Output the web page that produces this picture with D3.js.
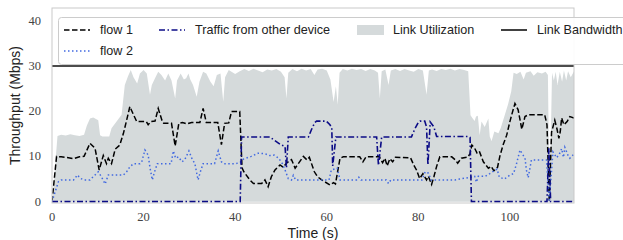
<!DOCTYPE html>
<html>
<head>
<meta charset="utf-8">
<script src="https://cdn.jsdelivr.net/npm/d3@7"></script>
<style>
  body { margin: 0; background: #fff; }
  svg { display: block; }
</style>
</head>
<body>
<svg id="chart" width="623" height="240"></svg>
<script>
// [time (s), throughput (Mbps)]
const flow1 = [[0,0],[1,10.0],[2,9.9],[3,9.8],[4.7,9.5],[6,9.9],[7,10.0],[8.3,12.9],[9.4,11.8],[10.3,7.0],[11.2,10.2],[11.9,8.4],[12.3,9.6],[13,8.4],[13.8,11.6],[14.8,12.5],[15.6,15.1],[16.3,18.0],[17.0,21.0],[17.8,19.2],[18.5,17.7],[20.6,17.7],[21.0,17.0],[21.6,17.7],[22.5,17.8],[23.2,20.6],[24.0,18.0],[24.4,17.3],[26.1,17.3],[26.9,12.3],[27.7,17.3],[28.5,17.5],[29.5,17.2],[30.5,17.5],[32.3,17.5],[33.0,20.6],[33.7,17.5],[36.2,17.5],[37.0,12.6],[37.7,17.3],[38.6,17.4],[39.2,19.9],[41.0,19.9],[41.5,7.5],[41.9,6.6],[43.2,4.8],[44.0,4.0],[45.8,4.0],[46.5,4.8],[47.2,3.3],[47.9,5.5],[48.7,7.0],[49.8,8.1],[50.5,7.6],[51.2,8.5],[52.3,9.3],[53.1,7.4],[53.8,8.4],[54.9,10.0],[55.7,9.2],[56.2,9.8],[57.3,6.6],[58.0,5.5],[58.9,4.8],[60.7,3.7],[61.5,4.2],[61.9,3.9],[62.9,9.6],[63.6,9.9],[67.2,9.9],[67.9,8.8],[68.6,9.9],[71.5,9.9],[72.2,8.6],[72.7,9.6],[73.2,7.9],[73.8,9.5],[74.4,8.8],[75.0,9.8],[78.3,9.7],[79.0,8.1],[79.6,7.0],[80.3,5.1],[81.0,6.2],[81.8,4.8],[82.2,5.6],[82.9,3.8],[83.4,5.5],[84.0,7.8],[84.7,9.9],[87.3,9.9],[88.1,9.2],[88.6,8.5],[89.4,9.6],[90.9,9.9],[91.3,10.7],[91.7,12.5],[92.3,11.8],[92.8,10.8],[93.3,11.2],[94.2,8.8],[95.3,7.4],[95.9,7.8],[96.5,6.8],[97.3,7.6],[97.8,10.0],[98.5,12.5],[99.3,14.7],[100.0,17.7],[100.4,19.2],[101.1,21.7],[101.8,20.3],[102.6,16.0],[103.3,18.8],[104.0,19.2],[107.6,19.2],[108.1,17.0],[108.6,0],[109.1,15.4],[109.8,18.0],[110.3,16.0],[110.7,14.0],[111.0,15.5],[111.3,18.5],[111.8,17.0],[112.5,17.7],[113.1,18.8],[114,18.5]];

const flow2 = [[0,0],[1.4,4.4],[2,4.8],[4.7,4.8],[5.0,5.1],[5.5,5.9],[6.3,5.1],[7.0,4.8],[8.3,4.8],[9.4,5.9],[10.1,6.6],[10.8,5.5],[11.6,3.9],[12.3,5.9],[15.6,5.9],[16.3,6.6],[17.0,7.7],[17.8,8.4],[19.2,8.4],[19.6,8.8],[20.3,11.4],[21.0,10.3],[21.4,7.5],[21.9,4.8],[22.4,6.6],[23.0,8.4],[26.0,8.4],[26.5,11.2],[27.0,9.6],[27.6,9.9],[28.4,8.8],[29.0,9.3],[29.9,11.2],[30.6,9.4],[31.2,8.4],[31.9,4.8],[32.4,6.6],[33.0,8.4],[35.5,8.4],[36.3,11.2],[37.0,8.8],[37.5,8.4],[40.0,8.4],[41.0,8.6],[41.8,9.4],[43.5,10.0],[45.0,10.7],[46.5,10.6],[47.5,10.2],[48.5,10.3],[49.5,9.6],[50.3,8.4],[50.9,7.0],[51.6,5.1],[52.3,4.8],[52.7,5.8],[53.2,4.8],[60.5,4.8],[61.0,7.0],[62.3,7.4],[62.9,4.8],[66.5,4.8],[67.0,5.4],[67.5,4.8],[73.0,4.8],[73.5,4.0],[74.0,4.8],[80.8,4.8],[81.5,6.6],[82.2,6.3],[82.8,4.8],[88,4.8],[89,5.0],[90.9,5.3],[92.3,5.6],[92.7,4.3],[93.1,5.6],[94.6,5.6],[95.6,6.2],[96.7,6.9],[97.2,7.2],[97.7,5.4],[98.8,5.0],[99.9,5.8],[100.8,6.2],[101.4,8.2],[102.2,11.4],[103.3,9.6],[103.6,7.0],[104.0,5.3],[104.7,9.2],[108.0,9.2],[108.6,0],[109.4,11.0],[110.2,9.7],[110.8,10.5],[111.3,11.7],[111.7,9.8],[112.0,12.0],[112.7,10.2],[113.1,9.6],[114,10.5]];

const otherTraffic = [[0,0],[41.1,0],[41.4,14.3],[47.6,14.3],[48.5,13.6],[50.1,12.5],[50.9,12.2],[51.2,7.5],[51.6,14.3],[56.0,14.3],[56.7,16.0],[57.4,17.5],[57.8,17.8],[59.9,17.8],[60.7,17.0],[61.1,16.3],[61.3,7.9],[62.0,14.3],[70.9,14.3],[71.3,8.0],[72.0,14.3],[78.5,14.3],[79.2,16.0],[80.0,17.5],[80.4,17.8],[81.4,17.8],[81.8,16.5],[82.1,8.1],[82.6,17.6],[83.4,16.5],[84.0,14.4],[90.9,14.4],[91.3,14.2],[91.6,0],[108.1,0],[108.5,11.8],[108.9,0],[114,0]];

const linkUtil = [[0,0],[0.3,3],[1.2,14.5],[2,14.8],[3,14.6],[4,14.9],[5,14.7],[6,14.5],[7,14.8],[7.6,16.8],[8.3,18.4],[9,18.6],[10.1,18.0],[10.5,14.7],[11,14.4],[12.5,14.4],[13,16.2],[14.1,17.7],[15.2,19.2],[15.9,25.8],[16.6,27.7],[17.2,29.1],[17.8,27.5],[18.6,26.1],[19.2,28.3],[20.0,29.1],[20.7,28.3],[21.4,23.6],[21.8,25.8],[22.5,27.3],[23.2,28.7],[23.9,28.0],[24.7,26.8],[25.4,28.3],[26.1,26.8],[26.9,22.8],[27.3,26.8],[28.1,28.3],[28.8,27.0],[29.3,27.3],[29.8,28.3],[30.2,27.0],[30.8,25.8],[31.6,23.2],[32.2,26.5],[33.0,28.7],[33.7,28.3],[34.6,26.5],[35.3,25.5],[36.0,28.0],[36.8,28.3],[37.4,22.1],[37.8,27.5],[38.6,29.1],[39.2,28.7],[40,28.2],[41,28.8],[42,29.3],[43,28.9],[44,29.4],[45,29.0],[46,28.6],[47,29.2],[48,29.0],[49,29.3],[50,28.7],[50.8,27.5],[51.2,22.8],[51.6,28.5],[52.5,29.3],[53.5,28.8],[54.5,29.4],[55.5,29.0],[56.5,29.3],[57.3,28.0],[58,29.2],[59,29.4],[60,29.0],[60.8,27.0],[61.5,22.0],[62,25.5],[62.4,21.4],[62.8,28.5],[63.5,29.3],[64.5,29.0],[65.5,29.4],[66.5,29.1],[67.5,29.3],[68.5,28.9],[69.5,29.3],[70.5,29.0],[71.2,28.5],[71.6,22.8],[72.0,28.8],[72.8,29.2],[73.5,25.8],[74,29.0],[75,29.3],[76,28.9],[77,29.3],[78,29.0],[79,28.7],[80,29.3],[81,29.0],[81.8,23.6],[82.3,29.0],[83,29.2],[84,28.9],[85,29.3],[86,29.1],[87,29.4],[88,29.0],[89,29.3],[90,29.1],[90.9,28.8],[91.4,19.1],[91.8,18.5],[92.3,17.8],[92.6,18.8],[93.0,19.0],[93.4,14.7],[93.8,17.7],[94.5,16.5],[95.3,18.4],[95.6,14.4],[96.0,13.4],[96.6,15.5],[97.5,15.1],[98.0,16.3],[98.8,18.9],[99.6,21.5],[100.3,24.4],[100.8,28.5],[101.5,28.2],[102.3,28.7],[103.0,27.0],[103.5,28.5],[104.5,28.8],[105.2,27.8],[106,28.6],[107,28.3],[107.8,28.7],[108.3,28],[108.5,12],[108.9,12],[109.2,28.5],[109.6,26.8],[110.0,28.7],[110.4,25.8],[110.9,28.7],[111.4,26.5],[111.8,29.0],[112.3,26.8],[112.7,28.8],[113.3,27.5],[114,28.8]];

const linkBandwidth = 30;
const xTicks = [0, 20, 40, 60, 80, 100];
const yTicks = [0, 10, 20, 30, 40];

const svg = d3.select("#chart");
const plotLeft = 52, plotRight = 574, plotTop = 8, plotBottom = 203;

const x = d3.scaleLinear().domain([0, 114]).range([plotLeft, plotRight]);
const y = d3.scaleLinear().domain([-0.3, 42.8]).range([plotBottom, plotTop]);

svg.append("clipPath").attr("id", "plot-clip")
  .append("rect")
  .attr("x", plotLeft).attr("y", plotTop)
  .attr("width", plotRight - plotLeft).attr("height", plotBottom - plotTop);

const plot = svg.append("g").attr("clip-path", "url(#plot-clip)");

// link utilization area
plot.append("path")
  .datum(linkUtil)
  .attr("fill", "#d5dadb")
  .attr("d", d3.area().x((d) => x(d[0])).y0(y(0)).y1((d) => y(d[1])));

// link bandwidth
plot.append("line")
  .attr("x1", plotLeft).attr("x2", plotRight)
  .attr("y1", y(linkBandwidth)).attr("y2", y(linkBandwidth))
  .attr("stroke", "#111").attr("stroke-width", 1.5);

const line = d3.line().x((d) => x(d[0])).y((d) => y(d[1]));

plot.append("path").datum(flow1)
  .attr("fill", "none").attr("stroke", "#000").attr("stroke-width", 1.5)
  .attr("stroke-dasharray", "5.5,2.5")
  .attr("d", line);

plot.append("path").datum(flow2)
  .attr("fill", "none").attr("stroke", "#4169e1").attr("stroke-width", 1.5)
  .attr("stroke-dasharray", "1.5,2.5")
  .attr("d", line);

plot.append("path").datum(otherTraffic)
  .attr("fill", "none").attr("stroke", "#0b0b86").attr("stroke-width", 1.6)
  .attr("stroke-dasharray", "6,2.5,1.5,2.5")
  .attr("d", line);

// frame
svg.append("rect")
  .attr("x", plotLeft).attr("y", plotTop)
  .attr("width", plotRight - plotLeft).attr("height", plotBottom - plotTop)
  .attr("fill", "none").attr("stroke", "#c9c9c9").attr("stroke-width", 1);

// tick labels (no tick marks)
svg.append("g").selectAll("text")
  .data(xTicks).join("text")
  .attr("x", (d) => x(d)).attr("y", 217)
  .attr("text-anchor", "middle").attr("dominant-baseline", "central")
  .attr("font-family", "'Liberation Serif', serif").attr("font-size", 12.5)
  .attr("fill", "#444")
  .text((d) => d);

svg.append("g").selectAll("text")
  .data(yTicks).join("text")
  .attr("x", 41).attr("y", (d) => y(d))
  .attr("text-anchor", "end").attr("dominant-baseline", "central")
  .attr("font-family", "'Liberation Serif', serif").attr("font-size", 12.5)
  .attr("fill", "#444")
  .text((d) => d);

// axis titles
svg.append("text")
  .attr("x", (plotLeft + plotRight) / 2).attr("y", 233)
  .attr("text-anchor", "middle").attr("dominant-baseline", "central")
  .attr("font-family", "'Liberation Sans', Arial, sans-serif").attr("font-size", 14)
  .attr("fill", "#222")
  .text("Time (s)");

svg.append("text")
  .attr("transform", `translate(15,${(plotTop + plotBottom) / 2}) rotate(-90)`)
  .attr("text-anchor", "middle").attr("dominant-baseline", "central")
  .attr("font-family", "'Liberation Sans', Arial, sans-serif").attr("font-size", 14)
  .attr("fill", "#222")
  .text("Throughput (Mbps)");

// legend
const legend = svg.append("g");
legend.append("rect")
  .attr("x", 58.5).attr("y", 17.5).attr("width", 600).attr("height", 47)
  .attr("rx", 3)
  .attr("fill", "#fff").attr("fill-opacity", 0.9)
  .attr("stroke", "#cccccc");

const legendItems = [
  { label: "flow 1", kind: "line", color: "#000", dash: "5.5,2.5", lx: 64, ly: 30 },
  { label: "flow 2", kind: "line", color: "#4169e1", dash: "1.5,2.5", lx: 64, ly: 51 },
  { label: "Traffic from other device", kind: "line", color: "#0b0b86", dash: "6,2.5,1.5,2.5", lx: 159, ly: 30 },
  { label: "Link Utilization", kind: "patch", color: "#d5dadb", lx: 357, ly: 30 },
  { label: "Link Bandwidth", kind: "line", color: "#111", dash: null, lx: 501, ly: 30 },
];

legendItems.forEach((item) => {
  if (item.kind === "patch") {
    legend.append("rect")
      .attr("x", item.lx).attr("y", item.ly - 5)
      .attr("width", 27).attr("height", 10)
      .attr("fill", item.color);
  } else {
    legend.append("line")
      .attr("x1", item.lx).attr("x2", item.lx + 26)
      .attr("y1", item.ly).attr("y2", item.ly)
      .attr("stroke", item.color).attr("stroke-width", 1.6)
      .attr("stroke-dasharray", item.dash);
  }
  legend.append("text")
    .attr("x", item.lx + 36).attr("y", item.ly)
    .attr("dominant-baseline", "central")
    .attr("font-family", "'Liberation Sans', Arial, sans-serif").attr("font-size", 12.6)
    .attr("fill", "#222")
    .text(item.label);
});
</script>
</body>
</html>
